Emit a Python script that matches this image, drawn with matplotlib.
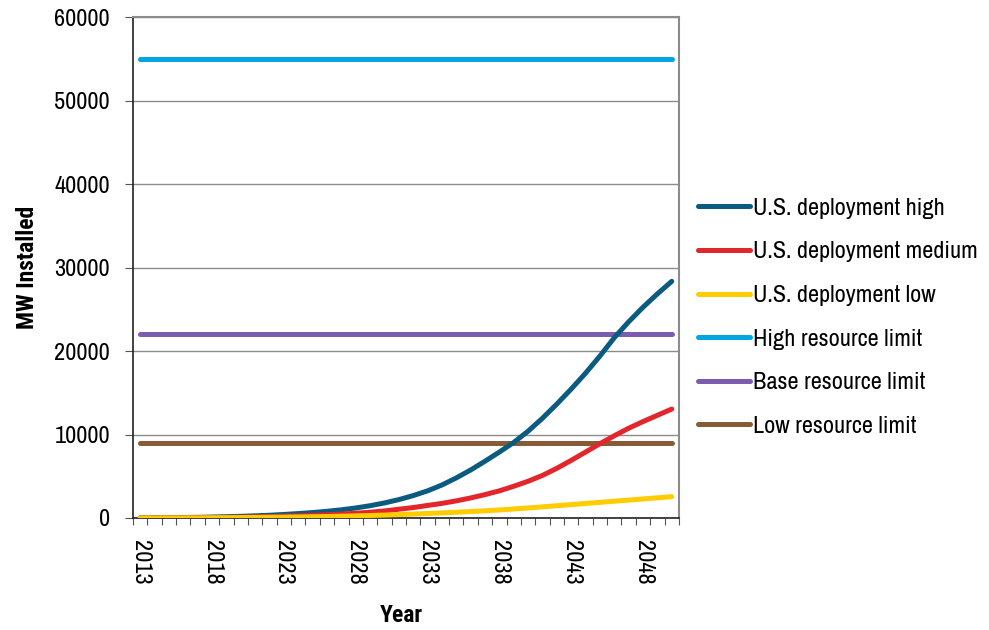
import matplotlib
matplotlib.use("Agg")
import matplotlib.pyplot as plt
from matplotlib import font_manager

years = list(range(2013, 2051))
deploy_high = [10, 20, 35, 55, 80, 110, 150, 200, 260, 330, 420, 530, 650, 800, 980, 1200,
               1470, 1800, 2200, 2680, 3250, 3950, 4800, 5750, 6800, 7900, 9050, 10400,
               11950, 13650, 15450, 17350, 19400, 21600, 23500, 25250, 26850, 28350]
deploy_medium = [0, 10, 20, 30, 45, 60, 80, 105, 135, 170, 210, 260, 320, 390, 470, 570,
                 690, 840, 1050, 1250, 1500, 1750, 2050, 2400, 2800, 3250, 3800, 4400,
                 5100, 5950, 6900, 7900, 8900, 9850, 10750, 11550, 12300, 13050]
deploy_low = [0, 5, 10, 15, 20, 30, 40, 50, 65, 80, 100, 120, 145, 175, 210, 250,
              300, 350, 410, 470, 540, 610, 690, 770, 860, 960, 1080, 1200,
              1335, 1470, 1605, 1740, 1875, 2010, 2145, 2280, 2415, 2550]
high_limit = [55000] * len(years)
base_limit = [22000] * len(years)
low_limit = [9000] * len(years)

series_names = ["U.S. deployment high", "U.S. deployment medium", "U.S. deployment low",
                "High resource limit", "Base resource limit", "Low resource limit"]
series_values = [deploy_high, deploy_medium, deploy_low, high_limit, base_limit, low_limit]
series_colors = ["#0B5B80", "#E3262B", "#FFCC00", "#00A6E2", "#7B5CB1", "#8A5A37"]

label_years = [2013, 2018, 2023, 2028, 2033, 2038, 2043, 2048]
y_ticks = [0, 10000, 20000, 30000, 40000, 50000, 60000]

# ---- font choice: a narrow family, and one that has a real bold face ----
entries = font_manager.fontManager.ttflist
def _w(e):
    try:
        return int(e.weight)
    except Exception:
        return {"bold": 700, "heavy": 800, "black": 900}.get(str(e.weight), 400)
avail = {e.name for e in entries}
bold_avail = {e.name for e in entries if _w(e) >= 600 and e.style == "normal"}
cands = ["Liberation Sans Narrow", "Arial Narrow", "Archivo Narrow", "Roboto Condensed",
         "PT Sans Narrow", "IBM Plex Sans Condensed", "Fira Sans Condensed",
         "Sofia Sans Condensed", "Encode Sans Condensed"]
family = next((c for c in cands if c in avail), "Liberation Sans")
bold_family = next((c for c in cands if c in bold_avail), "Liberation Sans")
plt.rcParams["font.family"] = [family, "DejaVu Sans"]
FS = 17.5 if family != "Liberation Sans" else 14.5
FSB = 17.0 if bold_family != "Liberation Sans" else 14.5

fig = plt.figure(figsize=(9.89, 6.30), dpi=100)
ax = fig.add_axes([0.1345, 0.1778, 0.552, 0.795])

xs = list(range(len(years)))
order_draw = [3, 4, 5, 0, 1, 2]
lines = {}
for i in order_draw:
    ln, = ax.plot(xs, series_values[i], color=series_colors[i], lw=3.6,
                  solid_capstyle="round", label=series_names[i], zorder=3)
    lines[i] = ln

ax.set_xlim(-0.5, len(years) - 0.5)
ax.set_ylim(0, 60000)
ax.set_yticks(y_ticks)
ax.set_yticklabels([str(v) for v in y_ticks], fontsize=FS)
ax.yaxis.grid(True, color="#8c8c8c", lw=1)
ax.set_axisbelow(True)

ax.set_xticks([x - 0.5 for x in xs] + [len(years) - 0.5])
ax.set_xticklabels([])
ax.tick_params(axis="x", which="major", length=5, color="#555555", direction="out")
ax.set_xticks([years.index(y) for y in label_years], minor=True)
ax.set_xticklabels([str(y) for y in label_years], minor=True, rotation=-90, fontsize=FS)
ax.tick_params(axis="x", which="minor", length=0, pad=16)
ax.tick_params(axis="y", length=6, color="#555555", pad=10.5)

for s in ["top", "right"]:
    ax.spines[s].set_color("#8c8c8c")
    ax.spines[s].set_linewidth(1.5)
for s in ["left", "bottom"]:
    ax.spines[s].set_color("#222222")
    ax.spines[s].set_linewidth(1.2)

ax.set_ylabel("MW Installed", fontsize=FSB, fontweight="bold",
              family=[bold_family, "DejaVu Sans"])
ax.yaxis.set_label_coords(-0.172, 0.5)
ax.set_xlabel("Year", fontsize=FSB, fontweight="bold",
              family=[bold_family, "DejaVu Sans"])
ax.xaxis.set_label_coords(0.492, -0.172)

handles = [lines[i] for i in range(6)]
fig.legend(handles, series_names, loc="upper left", bbox_to_anchor=(0.7058, 0.686),
           frameon=False, fontsize=FS, handlelength=2.15, handletextpad=0.12,
           labelspacing=0.93, borderaxespad=0, borderpad=0)

fig.savefig("out.png", dpi=100)
